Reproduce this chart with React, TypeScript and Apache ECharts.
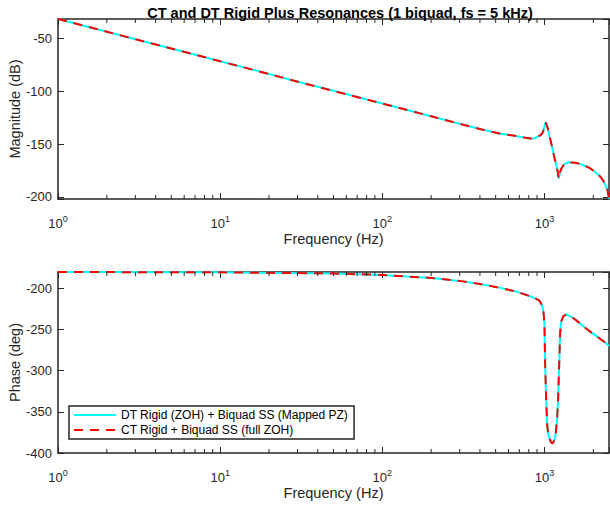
import React, { useEffect, useRef } from "react";
import * as echarts from "echarts";

const TITLE = "CT and DT Rigid Plus Resonances (1 biquad, fs = 5 kHz)";
const X_LABEL = "Frequency (Hz)";
const MAG_LABEL = "Magnitude (dB)";
const PHASE_LABEL = "Phase (deg)";
const DT_NAME = "DT Rigid (ZOH) + Biquad SS (Mapped PZ)";
const CT_NAME = "CT Rigid + Biquad SS (full ZOH)";

const magFreqHz = [
  1, 2, 3, 5, 10, 20, 31, 50, 100, 200, 300, 400, 535, 678, 750, 820, 870, 901,
  940, 968, 985, 1000, 1012, 1019, 1028, 1048, 1080, 1114, 1140, 1169, 1200,
  1225, 1245, 1273, 1310, 1348, 1420, 1483, 1580, 1668, 1800, 1923, 2050, 2217,
  2300, 2381, 2450, 2500,
];
const dtMagDb = [
  -31.6, -43.6, -50.7, -59.6, -71.6, -83.6, -91.5, -99.6, -111.6, -123.7,
  -130.8, -135.8, -140.2, -142.5, -143.8, -144.7, -144.5, -143.2, -141.8, -140,
  -137, -133.5, -130, -129.5, -131.5, -135.2, -144, -152.6, -160, -166.9, -174,
  -182.6, -177, -173.1, -170, -168.4, -167.3, -167.4, -168, -169, -171, -173.1,
  -176.5, -181, -184.5, -188.9, -194, -202,
];
const ctMagDb = [
  -31.6, -43.6, -50.7, -59.6, -71.6, -83.6, -91.5, -99.6, -111.6, -123.7,
  -130.8, -135.8, -140.2, -142.5, -143.8, -144.7, -144.5, -143.2, -141.8, -140,
  -137, -133.5, -130, -129.5, -131.5, -135.2, -144, -152.6, -160, -166.9, -174,
  -182.6, -177, -173.1, -170, -168.4, -167.3, -167.4, -168, -169, -171, -173.1,
  -176.5, -181, -184.5, -188.9, -194, -202,
];

const phaseFreqHz = [
  1, 10, 50, 100, 200, 300, 400, 535, 678, 836, 923, 945, 967, 981, 991, 1000,
  1004, 1010, 1024, 1039, 1055, 1074, 1095, 1115, 1138, 1158, 1175, 1197, 1214,
  1232, 1250, 1270, 1304, 1361, 1450, 1518, 1600, 1750, 1923, 2016, 2217, 2324,
  2500,
];
const dtPhaseDeg = [
  -180, -180.4, -181.8, -183.6, -187.2, -190.8, -194.5, -199.3, -204.1, -210.2,
  -214.2, -217, -221, -226, -233, -244.6, -265, -293, -333.7, -366, -377,
  -382.4, -386.5, -388.4, -386.5, -382.4, -375, -358, -333.7, -293, -252.7,
  -240, -234, -231.6, -234, -236.5, -240, -246.5, -252.8, -255.5, -261.6,
  -264.5, -270,
];
const ctPhaseDeg = [
  -180, -180.4, -181.8, -183.6, -187.2, -190.8, -194.5, -199.3, -204.1, -210.2,
  -214.2, -217, -221, -226, -233, -244.6, -265, -293, -333.7, -366, -377,
  -382.4, -386.5, -388.4, -386.5, -382.4, -375, -358, -333.7, -293, -252.7,
  -240, -234, -231.6, -234, -236.5, -240, -246.5, -252.8, -255.5, -261.6,
  -264.5, -270,
];

const minorTickHz = [
  2, 3, 4, 5, 6, 7, 8, 9, 20, 30, 40, 50, 60, 70, 80, 90, 200, 300, 400, 500,
  600, 700, 800, 900, 2000,
];

const X_MIN = 1;
const X_MAX = 2500;
const MAG_MIN = -202;
const MAG_MAX = -31.6;
const PHASE_MIN = -400;
const PHASE_MAX = -180;

const FONT = "'Liberation Sans', Arial, Helvetica, sans-serif";
const AX = "#262626";

function xAxisPair(gridIndex: number) {
  const bottom = {
    type: "log",
    logBase: 10,
    gridIndex,
    position: "bottom",
    min: X_MIN,
    max: X_MAX,
    name: X_LABEL,
    nameLocation: "middle",
    nameGap: 32,
    nameMoveOverlap: false,
    nameTextStyle: { fontSize: 14.5, color: AX, fontFamily: FONT },
    axisLine: { show: true, lineStyle: { color: AX, width: 1.5 } },
    axisTick: { show: true, inside: true, length: 6, lineStyle: { color: AX, width: 1 } },
    splitLine: { show: false },
    axisLabel: {
      margin: 15,
      color: AX,
      fontFamily: FONT,
      formatter: (v: number) => {
        const e = Math.log10(v);
        if (Math.abs(e - Math.round(e)) > 1e-6) return "";
        return `{b|10}{s|${Math.round(e)}}`;
      },
      rich: {
        b: { fontSize: 13, color: AX, fontFamily: FONT, verticalAlign: "bottom" },
        s: { fontSize: 9, color: AX, fontFamily: FONT, verticalAlign: "bottom", padding: [0, 0, 7, 0] },
      },
    },
  };
  const top = {
    type: "log",
    logBase: 10,
    gridIndex,
    position: "top",
    min: X_MIN,
    max: X_MAX,
    axisLine: { show: true, lineStyle: { color: AX, width: 1.5 } },
    axisTick: { show: true, inside: true, length: 6, lineStyle: { color: AX, width: 1 } },
    axisLabel: { show: false },
    splitLine: { show: false },
  };
  return [bottom, top];
}

function yAxisPair(gridIndex: number, min: number, max: number, name: string, interval?: number) {
  const common: any = {
    type: "value",
    gridIndex,
    min,
    max,
    splitLine: { show: false },
    axisLine: { show: true, lineStyle: { color: AX, width: 1.5 } },
    axisTick: { show: true, inside: true, length: 6, lineStyle: { color: AX, width: 1 } },
  };
  if (interval) common.interval = interval;
  else common.splitNumber = 4;
  const left = {
    ...common,
    position: "left",
    name,
    nameLocation: "middle",
    nameGap: 36,
    nameMoveOverlap: false,
    nameTextStyle: { fontSize: 14.5, color: AX, fontFamily: FONT },
    axisLabel: {
      margin: 6,
      fontSize: 13,
      color: AX,
      fontFamily: FONT,
      formatter: (v: number) => (Math.abs(v % 50) < 1e-6 ? String(v) : ""),
    },
  };
  const right = { ...common, position: "right", axisLabel: { show: false } };
  return [left, right];
}

function minorTickSeries(axisIndex: number, yVal: number) {
  return {
    type: "custom",
    xAxisIndex: axisIndex,
    yAxisIndex: axisIndex,
    silent: true,
    clip: false,
    z: 5,
    data: minorTickHz.map((f) => [f, yVal]),
    encode: { x: 0, y: 1 },
    renderItem: (params: any, api: any) => {
      const cs = params.coordSys;
      const x = api.coord([api.value(0), api.value(1)])[0];
      const yb = cs.y + cs.height;
      const yt = cs.y;
      const style = { stroke: AX, lineWidth: 1 };
      return {
        type: "group",
        children: [
          { type: "line", shape: { x1: x, y1: yb, x2: x, y2: yb - 4 }, style },
          { type: "line", shape: { x1: x, y1: yt, x2: x, y2: yt + 4 }, style },
        ],
      };
    },
  };
}

function lineSeries(name: string, axisIndex: number, xs: number[], ys: number[], dashed: boolean) {
  return {
    type: "line",
    name,
    xAxisIndex: axisIndex,
    yAxisIndex: axisIndex,
    data: xs.map((f, i) => [f, ys[i]]),
    symbol: "none",
    showSymbol: false,
    smooth: false,
    z: dashed ? 4 : 3,
    lineStyle: dashed
      ? { color: "#FF0000", width: 2, type: [9, 7] }
      : { color: "#00FFFF", width: 2, type: "solid" },
    itemStyle: { color: dashed ? "#FF0000" : "#00FFFF" },
  };
}

export default function App() {
  const ref = useRef<HTMLDivElement>(null);
  useEffect(() => {
    if (!ref.current) return;
    const chart = echarts.init(ref.current, undefined, { renderer: "svg" });
    const [x0b, x0t] = xAxisPair(0);
    const [x1b, x1t] = xAxisPair(1);
    const [y0l, y0r] = yAxisPair(0, MAG_MIN, MAG_MAX, MAG_LABEL);
    const [y1l, y1r] = yAxisPair(1, PHASE_MIN, PHASE_MAX, PHASE_LABEL, 50);
    chart.setOption({
      animation: false,
      backgroundColor: "#ffffff",
      title: {
        text: TITLE,
        left: 335,
        textAlign: "center",
        top: 0,
        textStyle: { fontSize: 14.5, fontWeight: "bold", color: "#000", fontFamily: FONT },
      },
      grid: [
        { left: 58, top: 19, width: 551, height: 180, containLabel: false, outerBoundsMode: "none" },
        { left: 58, top: 272, width: 551, height: 181, containLabel: false, outerBoundsMode: "none" },
      ],
      xAxis: [x0b, x0t, x1b, x1t],
      yAxis: [y0l, y0r, y1l, y1r],
      legend: {
        data: [DT_NAME, CT_NAME],
        orient: "vertical",
        left: 69,
        top: 406,
        itemWidth: 42,
        itemHeight: 14,
        itemGap: 3,
        padding: [3, 6, 3, 4],
        borderColor: AX,
        borderWidth: 1.5,
        backgroundColor: "#ffffff",
        itemStyle: { opacity: 0 },
        textStyle: { fontSize: 12, color: "#000", fontFamily: FONT },
      },
      series: [
        lineSeries(DT_NAME, 0, magFreqHz, dtMagDb, false),
        lineSeries(CT_NAME, 0, magFreqHz, ctMagDb, true),
        lineSeries(DT_NAME, 2, phaseFreqHz, dtPhaseDeg, false),
        lineSeries(CT_NAME, 2, phaseFreqHz, ctPhaseDeg, true),
        minorTickSeries(0, MAG_MIN),
        minorTickSeries(2, PHASE_MIN),
      ],
    });
    return () => chart.dispose();
  }, []);
  return (
    <div
      ref={ref}
      style={{ position: "absolute", left: 0, top: 0, width: 610, height: 506, background: "#fff" }}
    />
  );
}
